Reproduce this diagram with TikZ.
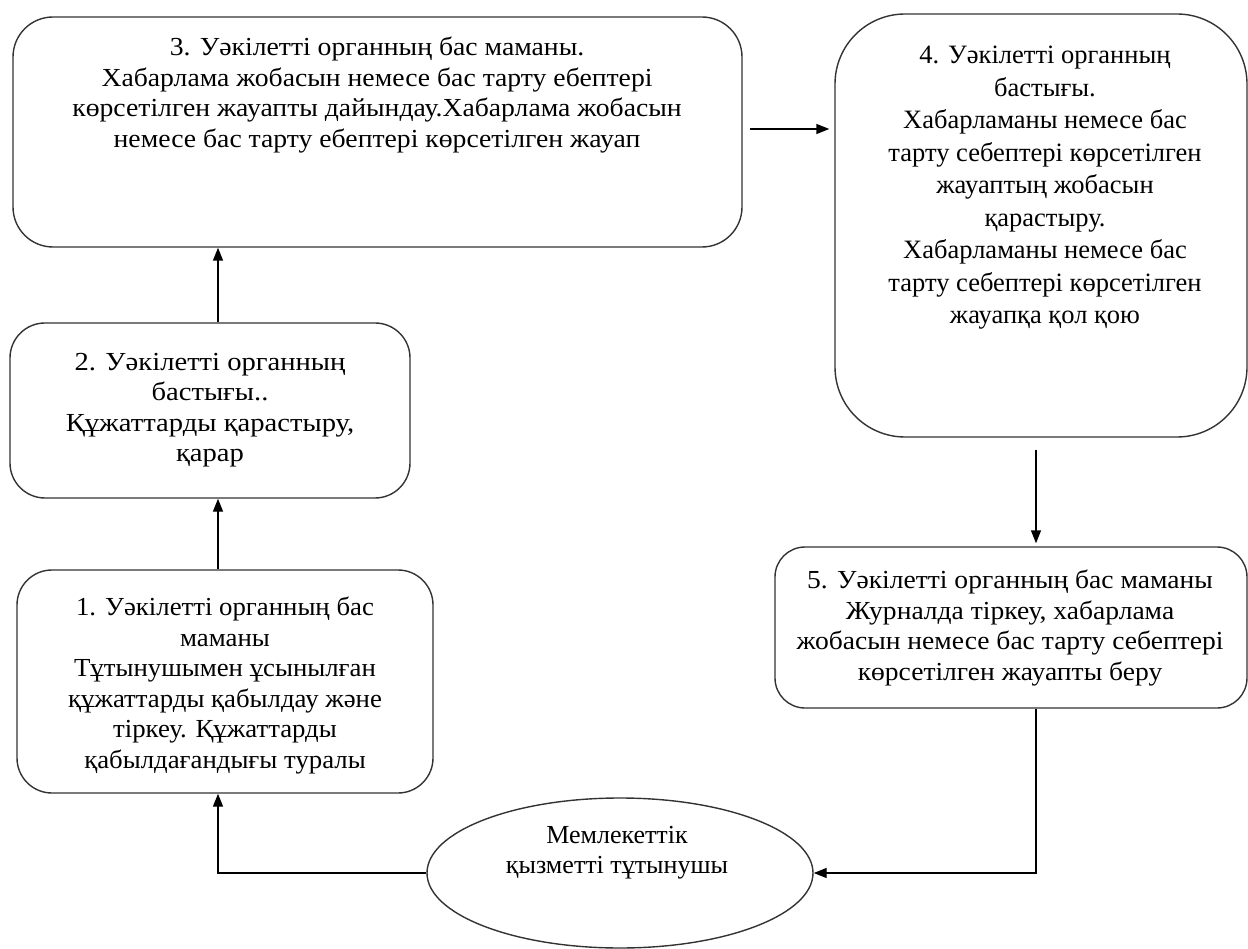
\documentclass[tikz,border=0pt]{standalone}
\usepackage{fontspec}
\setmainfont{Liberation Serif}
\newfontfamily\fsA[FakeStretch=1.065]{Liberation Serif}
\newfontfamily\fsB[FakeStretch=1.1]{Liberation Serif}
\newfontfamily\fsC[FakeStretch=1.06]{Liberation Serif}
\newfontfamily\fsD[FakeStretch=1.03]{Liberation Serif}
\usetikzlibrary{arrows.meta,shapes.geometric}
\begin{document}
\begin{tikzpicture}[x=1pt,y=-1pt,
  box/.style={draw=black!80, line width=1.4pt, rounded corners=#1, inner sep=0pt, rectangle},
  txt/.style={align=center, inner sep=0pt, anchor=north, font=\fontsize{26}{30.5}\selectfont},
  conn/.style={line width=1.4pt, -{Triangle[length=13pt,width=10pt]}}]
\path[use as bounding box] (0,0) rectangle (1248,949);
% boxes
\node[box=40pt, minimum width=729pt, minimum height=230pt] (b3) at (377.5,132) {};
\node[box=70pt, minimum width=412pt, minimum height=423pt] (b4) at (1041,225.5) {};
\node[box=35pt, minimum width=400pt, minimum height=175pt] (b2) at (210,410.5) {};
\node[box=35pt, minimum width=416pt, minimum height=223pt] (b1) at (225,681.5) {};
\node[box=30pt, minimum width=472pt, minimum height=161pt] (b5) at (1011,627.5) {};
\node[draw=black!80, line width=1.4pt, ellipse, minimum width=386pt, minimum height=150pt, inner sep=0pt] (cons) at (620,873) {};
% texts
\node[txt, font=\fsA\fontsize{26}{30.5}\selectfont] (t3) at (377,37) {3. Уәкілетті органның бас маманы.\\Хабарлама жобасын немесе бас тарту ебептері\\көрсетілген жауапты дайындау.Хабарлама жобасын\\немесе бас тарту ебептері көрсетілген жауап};
\node[txt, font=\fontsize{26.5}{32.5}\selectfont] (t4) at (1045,46) {4. Уәкілетті органның\\бастығы.\\Хабарламаны немесе бас\\тарту себептері көрсетілген\\жауаптың жобасын\\қарастыру.\\Хабарламаны немесе бас\\тарту себептері көрсетілген\\жауапқа қол қою};
\node[txt, font=\fsB\fontsize{26}{30.5}\selectfont] (t2) at (210,353) {2. Уәкілетті органның\\бастығы..\\Құжаттарды қарастыру,\\қарар};
\node[txt, font=\fsD\fontsize{26}{30.5}\selectfont] (t1) at (225,597) {1. Уәкілетті органның бас\\маманы\\Тұтынушымен ұсынылған\\құжаттарды қабылдау және\\тіркеу. Құжаттарды\\қабылдағандығы туралы};
\node[txt, font=\fsC\fontsize{26}{30.5}\selectfont] (t5) at (1010,570) {5. Уәкілетті органның бас маманы\\Журналда тіркеу, хабарлама\\жобасын немесе бас тарту себептері\\көрсетілген жауапты беру};
\node[txt] (tc) at (617,826) {Мемлекеттік\\қызметті тұтынушы};
% connector coordinates
\coordinate (xa) at (218,0);
\coordinate (xb) at (1036,0);
\coordinate (ya) at (0,129);
% connectors
\draw[conn] (b1.north -| xa) -- (b2.south -| xa);
\draw[conn] (b2.north -| xa) -- (b3.south -| xa);
\draw[conn, shorten <=7pt, shorten >=5pt] (b3.east |- ya) -- (b4.west |- ya);
\draw[conn, shorten <=12pt, shorten >=3pt] (b4.south -| xb) -- (b5.north -| xb);
\draw[conn] (b5.south -| xb) |- (cons.east);
\draw[conn] (cons.west) -| (b1.south -| xa);
\end{tikzpicture}
\end{document}
